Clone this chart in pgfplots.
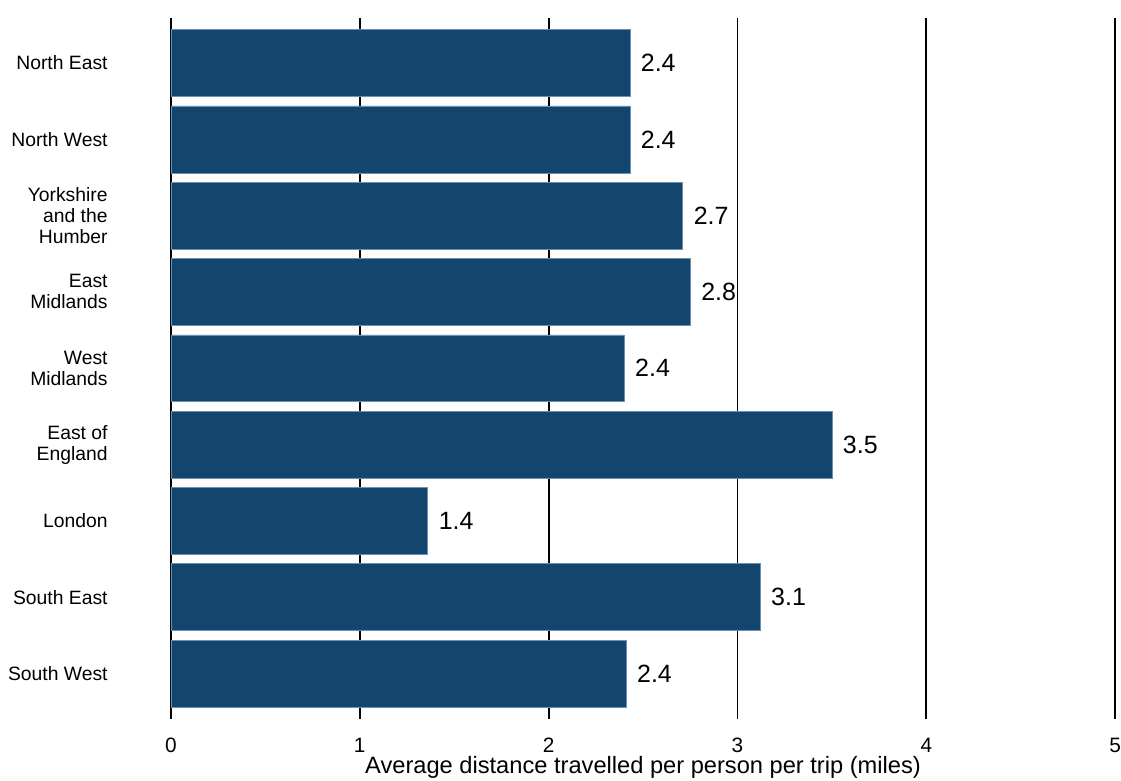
\documentclass[border=0pt]{standalone}
\usepackage{fontspec}
\setmainfont{Liberation Sans}
\usepackage{pgfplots}
\usepackage{pgfplotstable}
\pgfplotsset{compat=1.18}
\definecolor{barblue}{HTML}{12466E}
\newcommand{\xtl}{\fontsize{12.5}{14}\selectfont}
\pgfplotstableread{
y x lab
0 2.43 2.4
1 2.43 2.4
2 2.71 2.7
3 2.75 2.8
4 2.40 2.4
5 3.50 3.5
6 1.36 1.4
7 3.12 3.1
8 2.41 2.4
}\datatable
\begin{document}
\begin{tikzpicture}[x=1pt,y=1pt]
\def\px{0.6}
\begin{axis}[
  at={(0,0)}, anchor=south west,
  scale only axis,
  width=567pt, height=420.6pt,
  xbar, bar width=0.877,
  xmin=0, xmax=5,
  ymin=-0.59, ymax=8.59,
  y dir=reverse,
  xtick={0,1,2,3,4,5},
  xticklabel={\xtl\pgfmathprintnumber[assume math mode=true]{\tick}},
  ytick={0,1,2,3,4,5,6,7,8},
  yticklabels={North East, North West, {Yorkshire\\and the\\Humber}, {East\\Midlands}, {West\\Midlands}, {East of\\England}, London, South East, South West},
  axis line style={draw=none},
  tick style={draw=none},
  major tick length=0pt,
  xmajorgrids,
  grid style={black, line width=1.1pt},
  xticklabel style={font=\xtl, inner sep=0pt, anchor=north, yshift=-11.5pt},
  yticklabel style={font=\fontsize{11.6}{12.6}\selectfont, align=right, inner sep=0pt, anchor=east, xshift=-37.8pt},
  xlabel={Average distance travelled per person per trip (miles)},
  xlabel style={font=\fontsize{14.2}{16}\selectfont, at={(axis description cs:0.5,0)}, anchor=north, inner sep=0pt, yshift=-22.5pt},
  nodes near coords,
  point meta=explicit symbolic,
  nodes near coords style={font=\fontsize{15}{17}\selectfont, anchor=west, inner sep=0pt, xshift=6.5pt},
  clip=false,
]
\addplot[fill=barblue, draw={rgb,255:red,110;green,145;blue,175}, line width=0.3pt] table[x=x, y=y, meta=lab] {\datatable};
\end{axis}
\path[use as bounding box] (-171*\px, -62*\px) rectangle (950*\px, 719*\px);
\end{tikzpicture}
\end{document}
